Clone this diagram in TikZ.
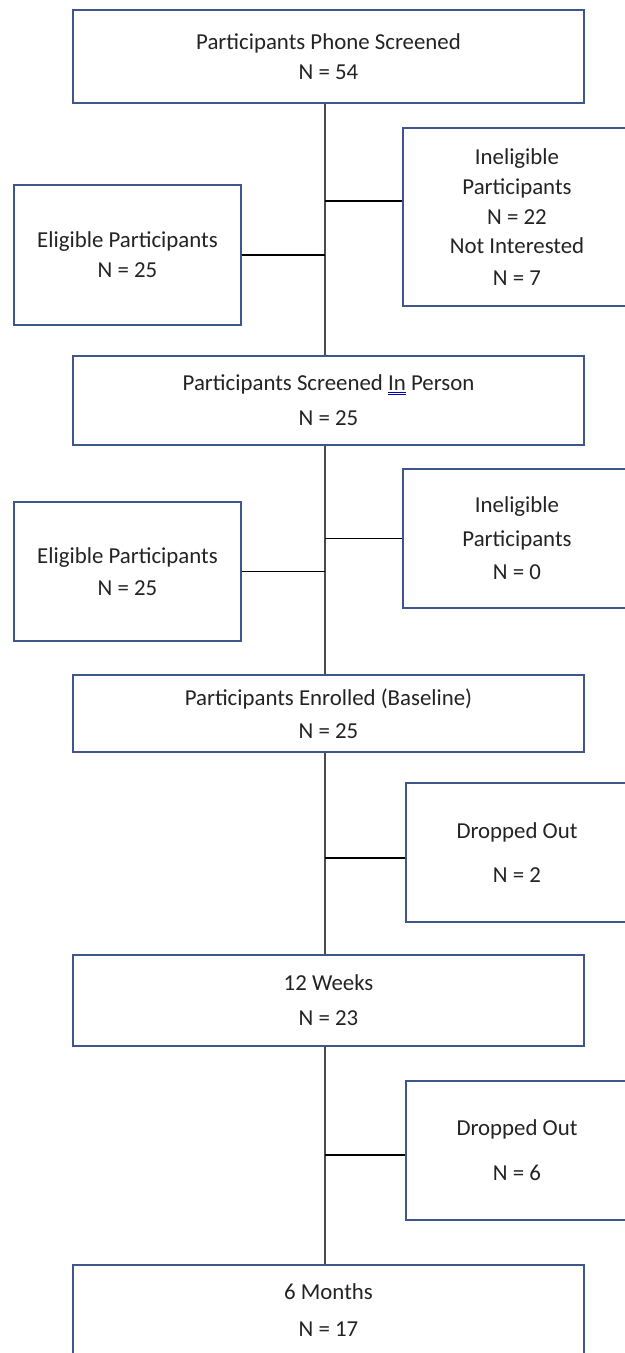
\documentclass[tikz,border=0pt]{standalone}
\usepackage{fontspec}
\setmainfont{Carlito}
\usetikzlibrary{positioning, calc}

\definecolor{boxblue}{RGB}{62,86,140}
\definecolor{txtgray}{RGB}{35,35,35}
\definecolor{spinegray}{RGB}{75,75,75}

% spellcheck-style blue underline
\newcommand{\wavyin}[1]{{\setbox0\hbox{#1}\rlap{\color{blue!70!black}\rule[-2.5pt]{\wd0}{0.5pt}}\rlap{\color{blue!70!black}\rule[-1.3pt]{\wd0}{0.5pt}}#1}}

\begin{document}
\begin{tikzpicture}[x=0.02cm, y=-0.02cm, font=\fontsize{13}{17}\selectfont, text=txtgray]
  \tikzstyle{mainbox}=[draw=boxblue, line width=0.85pt, align=center, minimum width=10.22cm, fill=white]
  \tikzstyle{sidebox}=[draw=boxblue, line width=0.85pt, align=center, minimum width=4.54cm, fill=white]
  \tikzstyle{link}=[line width=1.1pt, black]
  \tikzstyle{spine}=[line width=1.6pt, spinegray]

  \useasboundingbox (0,0) rectangle (625,1353);
  \clip (0,0) rectangle (625,1353);
  \fill[white] (0,0) rectangle (625,1353);
  \coordinate (sp) at (325,0);

  % main column
  \node[mainbox, minimum height=1.86cm] (phone) at (328.5,56.5) {Participants Phone Screened\\N = 54};
  \node[mainbox, minimum height=1.78cm] (person) at (328.5,400.5) {Participants Screened \wavyin{In} Person\\[3pt]N = 25};
  \node[mainbox, minimum height=1.54cm] (enrol) at (328.5,713.5) {Participants Enrolled (Baseline)\\[2pt]N = 25};
  \node[mainbox, minimum height=1.82cm] (weeks) at (328.5,1000.5) {12 Weeks\\[3pt]N = 23};
  \node[mainbox, minimum height=1.80cm] (months) at (328.5,1310) {6 Months\\[4pt]N = 17};

  % side boxes
  \node[sidebox, minimum height=2.80cm] (elig1) at (127.5,255) {Eligible Participants\\N = 25};
  \node[sidebox, minimum width=4.56cm, minimum height=3.56cm] (inelig1) at (517,217) {Ineligible\\Participants\\N = 22\\Not Interested\\[1pt]N = 7};
  \node[sidebox, minimum height=2.78cm] (elig2) at (127.5,571.5) {Eligible Participants\\[1pt]N = 25};
  \node[sidebox, minimum width=4.56cm, minimum height=2.78cm] (inelig2) at (517,538.5) {Ineligible\\[2pt]Participants\\[2pt]N = 0};
  \node[sidebox, minimum width=4.44cm, minimum height=2.78cm] (drop1) at (517,852.5) {Dropped Out\\[8.5pt]N = 2};
  \node[sidebox, minimum width=4.44cm, minimum height=2.78cm] (drop2) at (517,1150.5) {Dropped Out\\[8.5pt]N = 6};

  % spine
  \draw[spine] (phone.south -| sp) -- (person.north -| sp);
  \draw[spine] (person.south -| sp) -- (enrol.north -| sp);
  \draw[spine] (enrol.south -| sp) -- (weeks.north -| sp);
  \draw[spine] (weeks.south -| sp) -- (months.north -| sp);

  % branches
  \draw[link] (elig1.east) -- (elig1.east -| sp);
  \draw[link] ([yshift=0.32cm]inelig1.west) -- ([yshift=0.32cm]inelig1.west -| sp);
  \draw[link] (elig2.east) -- (elig2.east -| sp);
  \draw[link] (inelig2.west) -- (inelig2.west -| sp);
  \draw[link] ([yshift=-0.11cm]drop1.west) -- ([yshift=-0.11cm]drop1.west -| sp);
  \draw[link] ([yshift=-0.09cm]drop2.west) -- ([yshift=-0.09cm]drop2.west -| sp);
\end{tikzpicture}
\end{document}
